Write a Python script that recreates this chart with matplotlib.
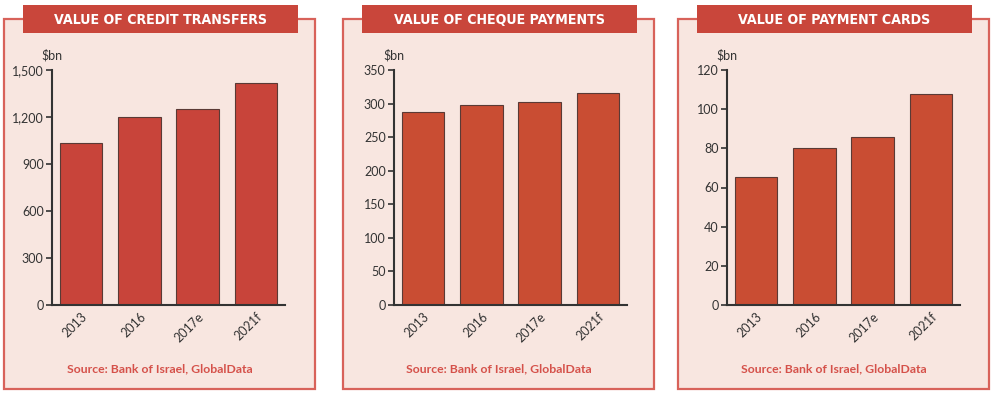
import matplotlib
matplotlib.use("Agg")
import matplotlib.pyplot as plt
from matplotlib.patches import Rectangle

# data
years = ["2013", "2016", "2017e", "2021f"]
credit_transfers = [1035, 1200, 1250, 1420]
cheque_payments = [287, 298, 303, 316]
payment_cards = [65.5, 80, 86, 108]

titles = ["VALUE OF CREDIT TRANSFERS", "VALUE OF CHEQUE PAYMENTS", "VALUE OF PAYMENT CARDS"]
series = [credit_transfers, cheque_payments, payment_cards]
yticks = [[0, 300, 600, 900, 1200, 1500],
          [0, 50, 100, 150, 200, 250, 300, 350],
          [0, 20, 40, 60, 80, 100, 120]]
bar_colors = ["#C8443A", "#C94D33", "#C94D33"]
source = "Source: Bank of Israel, GlobalData"

W, H = 993, 393
bg_col = "#F8E6E0"
border_col = "#D8625A"
banner_col = "#C9463B"
src_col = "#D5514A"
dark = "#333333"

fig = plt.figure(figsize=(W / 100, H / 100), dpi=100)
# background layer in pixel coordinates for panels and banners
bg = fig.add_axes([0, 0, 1, 1])
bg.set_xlim(0, W)
bg.set_ylim(H, 0)
bg.axis("off")

panel_x = [4, 343, 678]       # left edges of panels (px)
panel_w = 311
axis_left = [52, 394, 727]    # y-axis position (px)
axis_w = 233

for i in range(3):
    x0 = panel_x[i]
    bg.add_patch(Rectangle((x0, 19), panel_w, 370, facecolor=bg_col,
                           edgecolor=border_col, linewidth=1.6))
    bg.add_patch(Rectangle((x0 + 19, 5), 275, 28, facecolor=banner_col,
                           edgecolor="none"))
    bg.text(x0 + 19 + 137.5, 19.5, titles[i], color="white", fontsize=10.2,
            fontweight="bold", fontstretch="condensed", family="DejaVu Sans",
            ha="center", va="center")
    bg.text(x0 + panel_w / 2, 369, source, color=src_col, fontsize=8.8,
            fontweight="bold", family=["Lato", "DejaVu Sans"],
            ha="center", va="center")
    bg.text(axis_left[i], 55, "$bn", color=dark, fontsize=9,
            family=["Lato", "DejaVu Sans"], ha="center", va="center")

    ax = fig.add_axes([axis_left[i] / W, 1 - 305 / H, axis_w / W, (305 - 70) / H])
    ax.patch.set_alpha(0)
    ax.bar(range(len(years)), series[i], width=0.73, color=bar_colors[i],
           edgecolor="#5a3a35", linewidth=0.8)
    ax.set_xlim(-0.5, 3.5)
    ax.set_ylim(0, yticks[i][-1])
    ax.set_yticks(yticks[i])
    ax.set_yticklabels([f"{v:,}" for v in yticks[i]])
    ax.set_xticks(range(len(years)))
    ax.set_xticklabels(years, rotation=45, ha="right", va="top",
                       rotation_mode="anchor")
    for s in ["top", "right"]:
        ax.spines[s].set_visible(False)
    for s in ["left", "bottom"]:
        ax.spines[s].set_color(dark)
        ax.spines[s].set_linewidth(1.5)
    ax.tick_params(axis="y", length=4, width=1.2, color=dark, labelsize=9,
                   labelcolor=dark, pad=2)
    ax.tick_params(axis="x", length=0, labelsize=9, labelcolor=dark, pad=4)
    for lab in ax.get_xticklabels() + ax.get_yticklabels():
        lab.set_family(["Lato", "DejaVu Sans"])

fig.savefig("out.png", dpi=100, facecolor="white")
